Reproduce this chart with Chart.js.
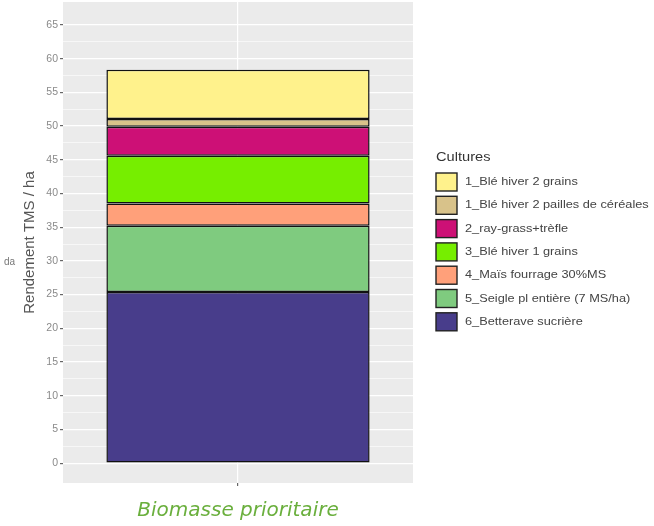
<!DOCTYPE html>
<html>
<head>
<meta charset="utf-8">
<script src="https://cdn.jsdelivr.net/npm/chart.js@4"></script>
<style>
  html, body { margin: 0; padding: 0; background: #ffffff; }
  #wrap { width: 654px; height: 526px; position: relative; }
</style>
</head>
<body>
<div id="wrap"><canvas id="c" width="654" height="526"></canvas></div>
<script>
// ---- data (bottom of stack first) ----
const categories = [''];
const seriesNames = [
  '6_Betterave sucrière',
  '5_Seigle pl entière (7 MS/ha)',
  '4_Maïs fourrage 30%MS',
  '3_Blé hiver 1 grains',
  '2_ray-grass+trèfle',
  '1_Blé hiver 2 pailles de céréales',
  '1_Blé hiver 2 grains'
];
const seriesValues = [25.4, 9.8, 3.3, 7.1, 4.3, 1.15, 7.3];
const seriesColors = ['#483D8B', '#7FCB7F', '#FFA07A', '#76EE00', '#CD1076', '#D8C28A', '#FFF28C'];
const yTickValues = [0, 5, 10, 15, 20, 25, 30, 35, 40, 45, 50, 55, 60, 65];
const yTitle = 'Rendement TMS / ha';
const xTitle = 'Biomasse prioritaire';
const legendTitle = 'Cultures';

const datasets = seriesNames.map((n, i) => ({
  label: n,
  data: [seriesValues[i]],
  backgroundColor: seriesColors[i],
  borderColor: '#111111',
  borderWidth: 1.5,
  borderSkipped: false,
  barPercentage: 0.752,
  categoryPercentage: 1.0
}));

const panelBg = {
  id: 'panelBg',
  beforeDraw(chart) {
    const a = chart.chartArea, ctx = chart.ctx;
    ctx.save();
    ctx.fillStyle = '#EBEBEB';
    ctx.fillRect(a.left, a.top, a.right - a.left, a.bottom - a.top);
    ctx.restore();
  }
};

function stretchedText(ctx, text, x, y, sx) {
  ctx.save();
  ctx.translate(x, y);
  ctx.scale(sx, 1);
  ctx.fillText(text, 0, 0);
  ctx.restore();
}

const sideLegend = {
  id: 'sideLegend',
  afterDraw(chart) {
    const ctx = chart.ctx;
    ctx.save();
    ctx.fillStyle = '#333333';
    ctx.font = '12px "Liberation Sans", Arial, sans-serif';
    ctx.textBaseline = 'middle';
    ctx.textAlign = 'left';
    stretchedText(ctx, legendTitle, 436, 158, 1.22);
    const n = chart.data.datasets.length;
    const startY = 182, step = 23.3;
    ctx.font = '11px "Liberation Sans", Arial, sans-serif';
    for (let k = 0; k < n; k++) {
      const ds = chart.data.datasets[n - 1 - k];
      const cy = startY + k * step;
      ctx.fillStyle = ds.backgroundColor;
      ctx.fillRect(436, cy - 9, 21, 18);
      ctx.strokeStyle = '#222222';
      ctx.lineWidth = 1.4;
      ctx.strokeRect(436, cy - 9, 21, 18);
      ctx.fillStyle = '#444444';
      stretchedText(ctx, ds.label, 465, cy, 1.16);
    }
    // clipped text at far left
    ctx.fillStyle = '#777777';
    ctx.font = '10px "Liberation Sans", Arial, sans-serif';
    ctx.fillText('da', 4, 262);
    ctx.restore();
  }
};

new Chart(document.getElementById('c'), {
  type: 'bar',
  data: { labels: categories, datasets },
  options: {
    responsive: false,
    animation: false,
    devicePixelRatio: 1,
    layout: { padding: { left: 0, right: 241, top: 2, bottom: 0 } },
    plugins: { legend: { display: false }, tooltip: { enabled: false } },
    scales: {
      x: {
        stacked: true,
        border: { display: false },
        grid: { color: '#FFFFFF', lineWidth: 1.2, tickLength: 3, tickColor: '#666666', offset: false },
        ticks: { display: true, font: { size: 1 }, color: 'rgba(0,0,0,0)', padding: 0 },
        title: {
          display: true, text: xTitle, color: '#6AAF3D',
          font: { family: '"DejaVu Sans", sans-serif', size: 20, style: 'italic' },
          padding: { top: 0, bottom: 3 }
        },
        afterFit(s) { s.height = 43; s.paddingLeft = 0; s.paddingRight = 0; }
      },
      y: {
        stacked: true,
        min: -2.95,
        max: 68.4,
        border: { display: false },
        afterBuildTicks(s) {
          const t = [];
          yTickValues.forEach((v, i) => {
            t.push({ value: v });
            if (i < yTickValues.length - 1) t.push({ value: (v + yTickValues[i + 1]) / 2, minor: true });
          });
          s.ticks = t;
        },
        grid: {
          color: '#FFFFFF',
          lineWidth: (c) => (c.tick && yTickValues.includes(c.tick.value)) ? 1.2 : 0.6,
          tickColor: (c) => (c.tick && yTickValues.includes(c.tick.value)) ? '#666666' : 'rgba(0,0,0,0)',
          tickLength: 3
        },
        ticks: {
          color: '#8A8A8A',
          font: { family: '"Liberation Sans", Arial, sans-serif', size: 10.5 },
          padding: 2,
          autoSkip: false,
          callback: (v) => yTickValues.includes(v) ? String(v) : ''
        },
        title: {
          display: true, text: yTitle, color: '#555555',
          font: { family: '"Liberation Sans", Arial, sans-serif', size: 15 },
          padding: { top: 21, bottom: 0 }
        },
        afterFit(s) { s.width = 63; s.paddingTop = 0; s.paddingBottom = 0; }
      }
    }
  },
  plugins: [panelBg, sideLegend]
});
</script>
</body>
</html>
